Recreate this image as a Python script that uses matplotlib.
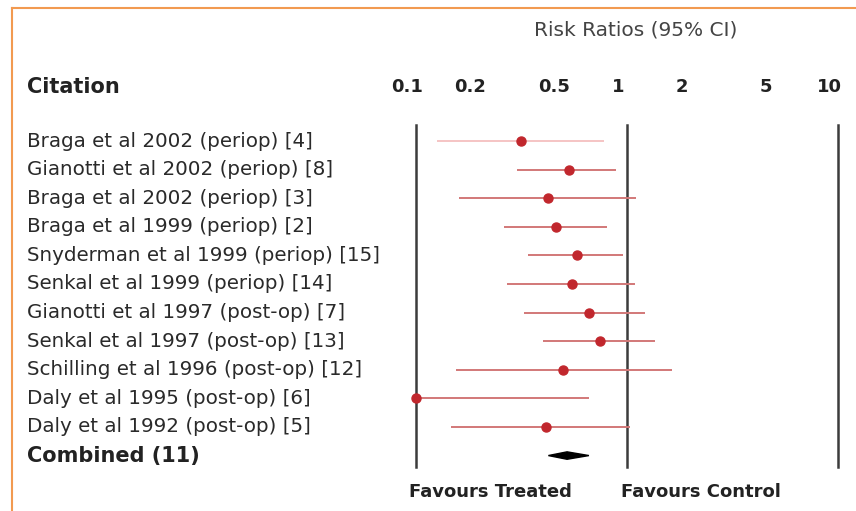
import numpy as np
import matplotlib
matplotlib.use("Agg")
import matplotlib.pyplot as plt
import matplotlib.transforms as mtransforms
from matplotlib.lines import Line2D

plt.rcParams['font.family'] = ['DejaVu Sans']

# data
studies = ["Braga et al 2002 (periop) [4]",
           "Gianotti et al 2002 (periop) [8]",
           "Braga et al 2002 (periop) [3]",
           "Braga et al 1999 (periop) [2]",
           "Snyderman et al 1999 (periop) [15]",
           "Senkal et al 1999 (periop) [14]",
           "Gianotti et al 1997 (post-op) [7]",
           "Senkal et al 1997 (post-op) [13]",
           "Schilling et al 1996 (post-op) [12]",
           "Daly et al 1995 (post-op) [6]",
           "Daly et al 1992 (post-op) [5]"]
rr = [0.315, 0.53, 0.42, 0.46, 0.58, 0.55, 0.66, 0.745, 0.50, 0.10, 0.415]
lo = [0.126, 0.30, 0.16, 0.26, 0.34, 0.27, 0.325, 0.40, 0.155, 0.10, 0.146]
hi = [0.78, 0.89, 1.10, 0.80, 0.96, 1.09, 1.22, 1.36, 1.63, 0.66, 1.03]
combined_label = "Combined (11)"
comb_rr, comb_lo, comb_hi = 0.52, 0.424, 0.66
ticks = [0.1, 0.2, 0.5, 1, 2, 5, 10]
tick_labels = ["0.1", "0.2", "0.5", "1", "2", "5", "10"]

W, H = 856, 511
fig = plt.figure(figsize=(W / 100, H / 100), dpi=100)
ax = fig.add_axes([416 / W, (H - 467) / H, (838 - 416) / W, (467 - 125) / H])
ax.set_xscale('log')
ax.set_xlim(0.1, 10)
ax.set_ylim(11.4, -0.56)
ax.axis('off')

for v in [0.1, 1, 10]:
    ax.axvline(v, color='#3c3c3c', lw=1.8, zorder=1, clip_on=False)

line_cols = ['#f5c4c4'] + ['#d27878'] * (len(studies) - 1)
for i in range(len(studies)):
    ax.plot([lo[i], hi[i]], [i, i], color=line_cols[i], lw=1.4, zorder=2,
            solid_capstyle='butt', clip_on=False)
    ax.plot(rr[i], i, 'o', color='#c1272d', ms=6.5, zorder=3, clip_on=False)

yc = len(studies)
ax.fill([comb_lo, comb_rr, comb_hi, comb_rr], [yc, yc - 0.13, yc, yc + 0.13],
        color='black', zorder=3)

# row labels
lab_tr = mtransforms.blended_transform_factory(fig.transFigure, ax.transData)
for i, s in enumerate(studies):
    ax.text(27 / W, i, s, transform=lab_tr, ha='left', va='center',
            fontsize=14.3, color='#2a2a2a')
ax.text(27 / W, yc, combined_label, transform=lab_tr, ha='left', va='center',
        fontsize=15, fontweight='bold', color='#222222')

# header
fig.text(27 / W, 1 - 87 / H, "Citation", ha='left', va='center',
         fontsize=15, fontweight='bold', color='#222222')
tick_tr = mtransforms.offset_copy(
    mtransforms.blended_transform_factory(ax.transData, fig.transFigure),
    fig=fig, x=-9, y=0, units='dots')
for t, tl in zip(ticks, tick_labels):
    ax.text(t, 1 - 87 / H, tl, transform=tick_tr, ha='center', va='center',
            fontsize=13, fontweight='bold', color='#222222')
fig.text(636 / W, 1 - 30 / H, "Risk Ratios (95% CI)", ha='center', va='center',
         fontsize=14.5, color='#444444')

fig.text(490 / W, 1 - 492 / H, "Favours Treated", ha='center', va='center',
         fontsize=13, fontweight='bold', color='#222222')
fig.text(701 / W, 1 - 492 / H, "Favours Control", ha='center', va='center',
         fontsize=13, fontweight='bold', color='#222222')

# orange frame
fig.add_artist(Line2D([12 / W, 1], [1 - 8 / H, 1 - 8 / H],
                      transform=fig.transFigure, color='#f29a50', lw=1.5))
fig.add_artist(Line2D([12 / W, 12 / W], [0, 1 - 8 / H],
                      transform=fig.transFigure, color='#f29a50', lw=1.5))

fig.savefig("out.png", dpi=100)
